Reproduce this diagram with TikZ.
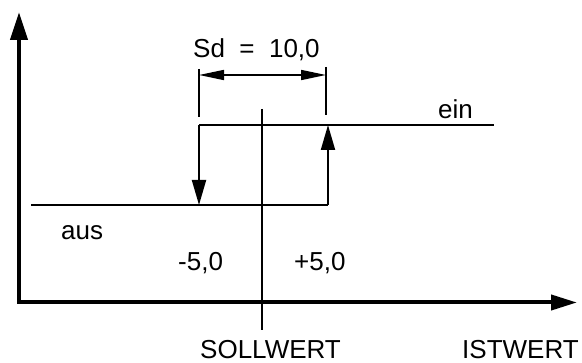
\documentclass[tikz,border=0pt]{standalone}
\usepackage{fontspec}
\setmainfont{Liberation Sans}
\usetikzlibrary{arrows.meta}
\tikzset{
  axis/.style={line width=4pt, line join=miter,
    {Triangle[length=28pt,width=17pt]}-{Triangle[length=26pt,width=15pt]}},
  curve/.style={line width=2pt},
  switch/.style={line width=2pt, -{Triangle[length=25pt,width=14pt]}},
  dimline/.style={line width=1.6pt,
    {Triangle[length=25pt,width=10pt]}-{Triangle[length=25pt,width=10pt]}},
  tick/.style={line width=2pt},
  label/.style={inner sep=0pt, anchor=base west, font=\fontsize{26}{30}\selectfont},
}
\begin{document}
\begin{tikzpicture}[x=1pt, y=-1pt]
  \useasboundingbox (0,0) rectangle (582,363);
  % axes
  \coordinate (ytop) at (19,12);
  \coordinate (orig) at (19,302.5);
  \coordinate (xend) at (577,302.5);
  \draw[axis] (ytop) -- (orig) -- (xend);
  % hysteresis
  \coordinate (lo1) at (31,205);
  \coordinate (lo2) at (328,205);
  \coordinate (hi1) at (199,125);
  \coordinate (hi2) at (494,125);
  \coordinate (offtip) at (199,205);
  \coordinate (ontip) at (328,125);
  \draw[curve] (lo1) -- (lo2);
  \draw[curve] (hi1) -- (hi2);
  \draw[switch] (hi1) -- (offtip);
  \draw[switch] (lo2) -- (ontip);
  % set point
  \coordinate (sp1) at (262,109);
  \coordinate (sp2) at (262,330);
  \draw[tick] (sp1) -- (sp2);
  % switching difference
  \coordinate (tl1) at (199,69);  \coordinate (tl2) at (199,117);
  \coordinate (tr1) at (326,67);  \coordinate (tr2) at (326,115);
  \draw[tick] (tl1) -- (tl2);
  \draw[tick] (tr1) -- (tr2);
  \coordinate (dl) at (199,75);
  \coordinate (dr) at (326,75);
  \draw[dimline] (dl) -- (dr);
  % labels
  \node[label] (sd) at (193,58) {Sd\ \ =\ \ 10,0};
  \node[label] (ein) at (438,119) {ein};
  \node[label] (aus) at (61,240) {aus};
  \node[label] (minus) at (178,271) {-5,0};
  \node[label] (plus) at (294,271) {+5,0};
  \node[label] (soll) at (200,359) {SOLLWERT};
  \node[label] (ist) at (462,359) {ISTWERT};
\end{tikzpicture}
\end{document}
